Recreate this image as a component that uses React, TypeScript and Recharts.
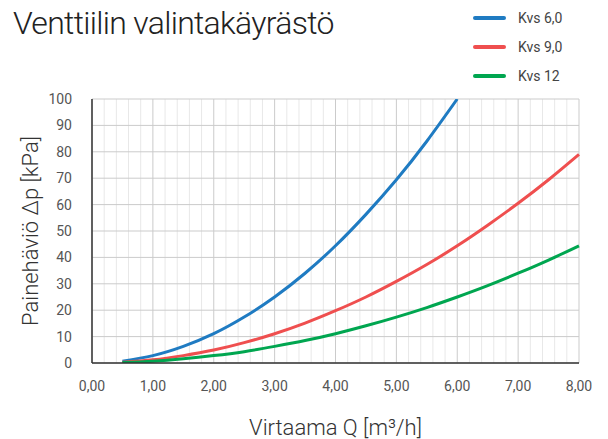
import { LineChart, Line, XAxis, YAxis, CartesianGrid, Label } from 'recharts'

const Q = [0.5, 1.0, 1.5, 2.0, 2.5, 3.0, 3.5, 4.0, 4.5, 5.0, 5.5, 6.0, 6.5, 7.0, 7.5, 8.0]
const kvs6 = [0.7, 2.8, 6.3, 11.1, 17.4, 25, 34, 44.4, 56.3, 69.4, 84, 100, null, null, null, null]
const kvs9 = [0.3, 1.2, 2.8, 4.9, 7.7, 11.1, 15.1, 19.8, 25, 30.9, 37.3, 44.4, 52.2, 60.5, 69.4, 79]
const kvs12 = [0.2, 0.7, 1.6, 2.8, 4.3, 6.3, 8.5, 11.1, 14.1, 17.4, 21, 25, 29.3, 34, 39, 44.4]

const X_TICKS = [0, 1, 2, 3, 4, 5, 6, 7, 8]
const X_MINOR = [0.2, 0.4, 0.6, 0.8, 1.2, 1.4, 1.6, 1.8, 2.2, 2.4, 2.6, 2.8, 3.2, 3.4, 3.6, 3.8, 4.2, 4.4, 4.6, 4.8, 5.2, 5.4, 5.6, 5.8, 6.2, 6.4, 6.6, 6.8, 7.2, 7.4, 7.6, 7.8]
const Y_TICKS = [0, 10, 20, 30, 40, 50, 60, 70, 80, 90, 100]
const X_MAX = 8

const SERIES = [
  { key: 'kvs6', name: 'Kvs 6,0', color: '#1f7bc2' },
  { key: 'kvs9', name: 'Kvs 9,0', color: '#ef4f4f' },
  { key: 'kvs12', name: 'Kvs 12', color: '#00a650' },
]

const data = Q.map((q, i) => ({ q, kvs6: kvs6[i], kvs9: kvs9[i], kvs12: kvs12[i] }))

const FONT = 'Roboto, "Liberation Sans", sans-serif'
const tick = { fill: '#555', fontSize: 14, fontFamily: FONT }
const frame = { stroke: '#333', strokeWidth: 1.5 }

// vertical grid positions from the x scale
const gridAt = (vals: number[]) => (props: any) => {
  const s = props?.xAxis?.scale
  const f = typeof s === 'function' ? s : s && typeof s.map === 'function' ? (v: number) => s.map(v) : null
  if (f) return vals.map(v => f(v))
  const o = props.offset
  return vals.map(v => o.left + (v / X_MAX) * o.width)
}

function LegendBox() {
  return (
    <div style={{ position: 'absolute', left: 473, top: 3, fontFamily: FONT }}>
      {SERIES.map(s => (
        <div key={s.key} style={{ display: 'flex', alignItems: 'center', height: 29 }}>
          <div style={{ width: 33, height: 4, borderRadius: 2, background: s.color, marginRight: 12 }} />
          <span style={{ color: '#444', fontSize: 14 }}>{s.name}</span>
        </div>
      ))}
    </div>
  )
}

export default function App() {
  return (
    <div style={{ position: 'absolute', left: 0, top: 0, width: 608, height: 439, background: '#fff' }}>
      <div
        style={{
          position: 'absolute', left: 13, top: 1, fontFamily: FONT, fontWeight: 300,
          fontSize: 32, letterSpacing: -0.7, color: '#222', lineHeight: '44px',
        }}
      >
        Venttiilin valintakäyrästö
      </div>
      <LegendBox />
      <LineChart width={608} height={439} data={data} margin={{ top: 99, right: 29, left: 32, bottom: 0 }}>
        <XAxis xAxisId="top" orientation="top" dataKey="q" type="number" domain={[0, X_MAX]}
          tick={false} tickLine={false} axisLine={frame} height={0} />
        <YAxis yAxisId="right" orientation="right" type="number" domain={[0, 100]}
          tick={false} tickLine={false} axisLine={frame} width={0} />
        <CartesianGrid horizontal={false} stroke="#e8e8e8" strokeWidth={1}
          verticalCoordinatesGenerator={gridAt(X_MINOR)} />
        <CartesianGrid stroke="#cbcbcb" strokeWidth={1}
          verticalCoordinatesGenerator={gridAt(X_TICKS)} />
        <XAxis
          dataKey="q" type="number" domain={[0, X_MAX]} ticks={X_TICKS} interval={0}
          tick={tick} tickLine={false} axisLine={frame}
          tickFormatter={(v: number) => v.toFixed(2).replace('.', ',')}
          tickMargin={12} height={76}
        >
          <Label value="Virtaama Q [m³/h]" position="insideBottom" offset={4}
            style={{ fill: '#333', fontSize: 22, fontFamily: FONT, fontWeight: 300 }} />
        </XAxis>
        <YAxis
          type="number" domain={[0, 100]} ticks={Y_TICKS} interval={0} allowDataOverflow
          tick={tick} tickLine={false} axisLine={frame}
          tickMargin={14} width={60}
        >
          <Label value="Painehäviö Δp [kPa]" angle={-90} position="insideLeft" offset={-2}
            style={{ textAnchor: 'middle', fill: '#333', fontSize: 22, fontFamily: FONT, fontWeight: 300 }} />
        </YAxis>
        {SERIES.map(s => (
          <Line key={s.key} dataKey={s.key} name={s.name} type="natural" stroke={s.color}
            strokeWidth={3} dot={false} isAnimationActive={false} connectNulls={false} />
        ))}
      </LineChart>
    </div>
  )
}
